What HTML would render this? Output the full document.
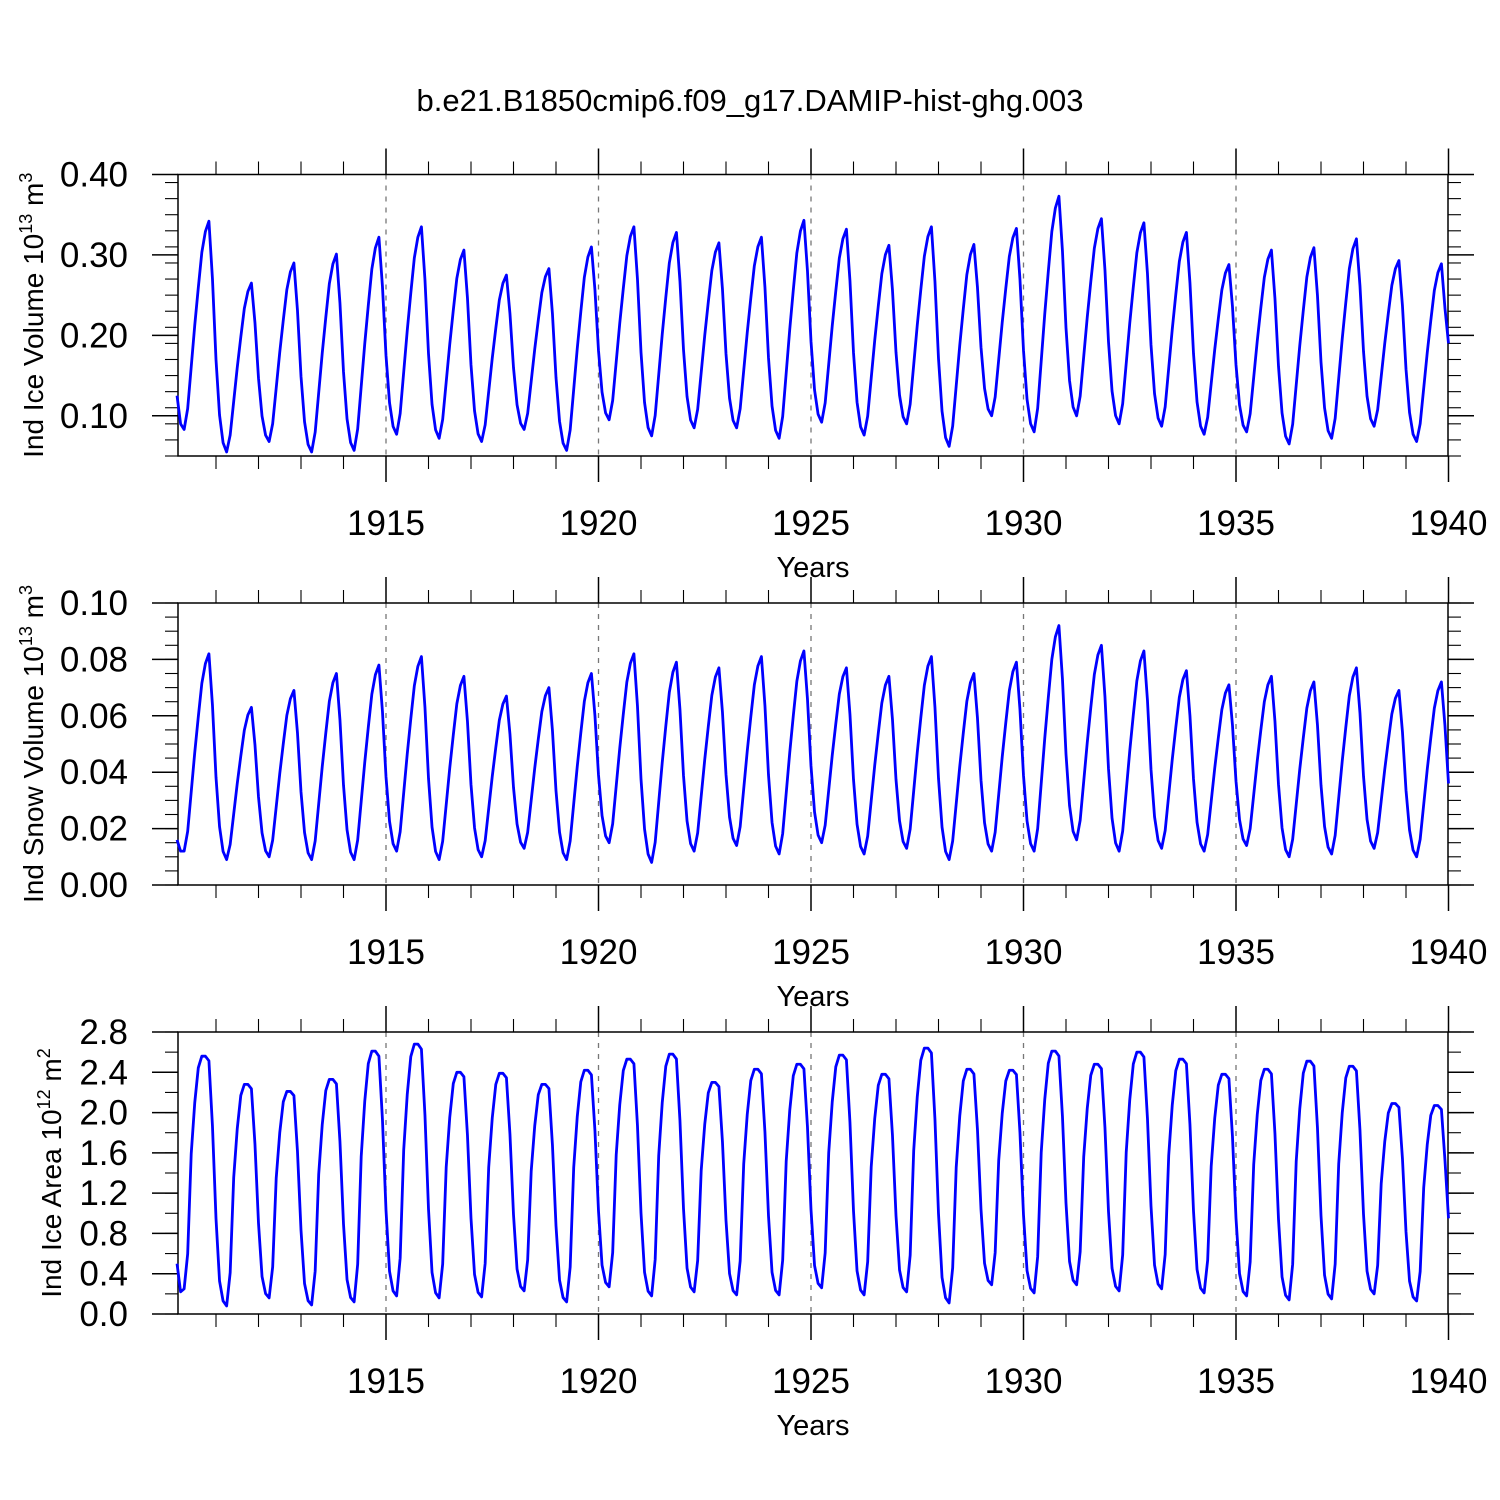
<!DOCTYPE html>
<html><head><meta charset="utf-8"><style>
body{margin:0;background:#fff}
svg{display:block;font-family:"Liberation Sans",Arial,sans-serif}
</style></head><body>
<svg id="chart" width="1500" height="1500" viewBox="0 0 1500 1500" xmlns="http://www.w3.org/2000/svg">
<rect width="1500" height="1500" fill="#fff"/>
<text x="750" y="111" font-size="31" text-anchor="middle">b.e21.B1850cmip6.f09_g17.DAMIP-hist-ghg.003</text>
</svg>
<script>
// ---- data (per-year seasonal peaks and troughs, 1910..1939) ----
const years = [1910,1911,1912,1913,1914,1915,1916,1917,1918,1919,1920,1921,1922,1923,1924,1925,1926,1927,1928,1929,1930,1931,1932,1933,1934,1935,1936,1937,1938,1939];
const xTickLabels = ["1915","1920","1925","1930","1935","1940"];
const xTickYears = [1915,1920,1925,1930,1935,1940];

const icePeaks = [0.342,0.265,0.290,0.301,0.322,0.335,0.306,0.275,0.283,0.310,0.335,0.328,0.315,0.322,0.343,0.332,0.312,0.335,0.313,0.333,0.373,0.345,0.340,0.328,0.288,0.306,0.309,0.320,0.293,0.289];
const iceTroughs = [0.083,0.055,0.068,0.055,0.057,0.077,0.072,0.068,0.083,0.057,0.095,0.075,0.085,0.085,0.072,0.092,0.076,0.090,0.062,0.100,0.080,0.100,0.090,0.087,0.077,0.080,0.065,0.072,0.087,0.068];
const iceStart = [0.125,0.090];
const iceEnd = 0.190;
const iceYTicks = [0.10,0.20,0.30,0.40];
const iceYLabels = ["0.10","0.20","0.30","0.40"];

const snowPeaks = [0.082,0.063,0.069,0.075,0.078,0.081,0.074,0.067,0.070,0.075,0.082,0.079,0.077,0.081,0.083,0.077,0.074,0.081,0.075,0.079,0.092,0.085,0.083,0.076,0.071,0.074,0.072,0.077,0.069,0.072];
const snowTroughs = [0.012,0.009,0.010,0.009,0.009,0.012,0.009,0.010,0.013,0.009,0.015,0.008,0.012,0.014,0.011,0.015,0.011,0.013,0.009,0.012,0.012,0.016,0.012,0.013,0.012,0.014,0.010,0.011,0.013,0.010];
const snowStart = [0.016,0.012];
const snowEnd = 0.036;
const snowYTicks = [0.00,0.02,0.04,0.06,0.08,0.10];
const snowYLabels = ["0.00","0.02","0.04","0.06","0.08","0.10"];

const areaPeaks = [2.56,2.28,2.21,2.33,2.61,2.68,2.40,2.39,2.28,2.42,2.53,2.58,2.30,2.43,2.48,2.57,2.38,2.64,2.43,2.42,2.61,2.48,2.60,2.53,2.38,2.43,2.51,2.46,2.09,2.07];
const areaTroughs = [0.25,0.08,0.16,0.09,0.12,0.18,0.16,0.17,0.23,0.12,0.27,0.18,0.22,0.19,0.19,0.26,0.19,0.22,0.11,0.29,0.21,0.29,0.23,0.25,0.21,0.18,0.14,0.15,0.20,0.13];
const areaStart = [0.50,0.22];
const areaEnd = 0.95;
const areaYTicks = [0.0,0.4,0.8,1.2,1.6,2.0,2.4,2.8];
const areaYLabels = ["0.0","0.4","0.8","1.2","1.6","2.0","2.4","2.8"];

// seasonal cycle weights (month index 0..11)
const volRise = {3:0.10,4:0.30,5:0.50,6:0.68,7:0.85,8:0.95,9:1.0};
const volFall = {10:0.75,11:0.40,0:0.16,1:0.04};
const areaRise = {3:0.15,4:0.58,5:0.80,6:0.95,7:1.0,8:1.0,9:0.98};
const areaFall = {10:0.72,11:0.35,0:0.10,1:0.02};

const NS="http://www.w3.org/2000/svg";
const svg=document.getElementById('chart');
function el(tag,attrs,parent){const e=document.createElementNS(NS,tag);for(const k in attrs)e.setAttribute(k,attrs[k]);(parent||svg).appendChild(e);return e;}

function monthly(P,T,start,end,rise,fall){
  const v=[];
  for(let y=0;y<P.length;y++){
    for(let j=0;j<12;j++){
      let val;
      if(j<=1){val = y===0 ? start[j] : T[y]+fall[j]*(P[y-1]-T[y]);}
      else if(j===2){val=T[y];}
      else if(j<=9){val=T[y]+rise[j]*(P[y]-T[y]);}
      else{
        if(y===P.length-1 && j===11) val=end;
        else { const Tn = y+1<T.length?T[y+1]:T[y]; val=Tn+fall[j]*(P[y]-Tn); }
      }
      v.push(val);
    }
  }
  return v;
}

const X0=178,X1=1448;
function xScale(t){return 173.5+42.5*(t-1910);}

function panel(name,top,bottom,ymin,ymax,yTicks,yLabels,minorStep,values,titleHTML,titleX){
  const g=el('g',{});
  
  
  const ys=v=>bottom-(v-ymin)/(ymax-ymin)*(bottom-top);
  xTickYears.forEach(yr=>{
    if(yr<1940){const l=el('line',{x1:xScale(yr),x2:xScale(yr),y1:top,y2:bottom,stroke:'#777','stroke-width':1.3,'stroke-dasharray':'5,6'},g);
    
    }
  });
  const fr=el('rect',{x:X0,y:top,width:X1-X0,height:bottom-top,fill:'none',stroke:'#000','stroke-width':1.5},g);
  
  
  for(let yr=1911;yr<=1940;yr++){
    const major=(yr%5===0);const len=major?26:13;const x=xScale(yr);
    el('line',{x1:x,x2:x,y1:top,y2:top-len,stroke:'#000','stroke-width':major?1.5:1.1},g);
    el('line',{x1:x,x2:x,y1:bottom,y2:bottom+len,stroke:'#000','stroke-width':major?1.5:1.1},g);
  }
  xTickYears.forEach((yr,i)=>{
    const t=el('text',{x:xScale(yr),y:bottom+79,'font-size':35,'text-anchor':'middle'},g);
    t.textContent=xTickLabels[i];
    
    
  });
  const xt=el('text',{x:813,y:bottom+121,'font-size':29,'text-anchor':'middle'},g);
  xt.textContent='Years';
  
  
  for(let v=ymin;v<=ymax+1e-9;v+=minorStep){
    const y=ys(v);
    el('line',{x1:X0,x2:X0-13,y1:y,y2:y,stroke:'#000','stroke-width':1.1},g);
    el('line',{x1:X1,x2:X1+13,y1:y,y2:y,stroke:'#000','stroke-width':1.1},g);
  }
  yTicks.forEach((v,i)=>{
    const y=ys(v);
    el('line',{x1:X0,x2:X0-26,y1:y,y2:y,stroke:'#000','stroke-width':1.5},g);
    el('line',{x1:X1,x2:X1+26,y1:y,y2:y,stroke:'#000','stroke-width':1.5},g);
    const t=el('text',{x:128,y:y+12,'font-size':35,'text-anchor':'end'},g);
    t.textContent=yLabels[i];
    
    
  });
  const cy=(top+bottom)/2;
  const yt=el('text',{x:0,y:0,'font-size':28,'text-anchor':'middle',transform:`translate(${titleX},${cy}) rotate(-90)`},g);
  yt.innerHTML=titleHTML;
  
  
  let d='';
  values.forEach((v,i)=>{const t=1910+(i+1)/12;d+=(i?'L':'M')+xScale(t).toFixed(2)+','+ys(v).toFixed(2);});
  const p=el('path',{d:d,fill:'none',stroke:'#0000ff','stroke-width':2.8,'stroke-linejoin':'round'},g);
  
  
}

panel('ice-volume',174.5,456,0.05,0.40,iceYTicks,iceYLabels,0.02,
  monthly(icePeaks,iceTroughs,iceStart,iceEnd,volRise,volFall),
  'Ind Ice Volume 10<tspan dy="-11" font-size="18">13</tspan><tspan dy="11"> m</tspan><tspan dy="-11" font-size="18">3</tspan>',43);
panel('snow-volume',603,885,0.0,0.10,snowYTicks,snowYLabels,0.005,
  monthly(snowPeaks,snowTroughs,snowStart,snowEnd,volRise,volFall),
  'Ind Snow Volume 10<tspan dy="-11" font-size="18">13</tspan><tspan dy="11"> m</tspan><tspan dy="-11" font-size="18">3</tspan>',43);
panel('ice-area',1032,1314,0.0,2.8,areaYTicks,areaYLabels,0.2,
  monthly(areaPeaks,areaTroughs,areaStart,areaEnd,areaRise,areaFall),
  'Ind Ice Area 10<tspan dy="-11" font-size="18">12</tspan><tspan dy="11"> m</tspan><tspan dy="-11" font-size="18">2</tspan>',61);
</script>
</body></html>
